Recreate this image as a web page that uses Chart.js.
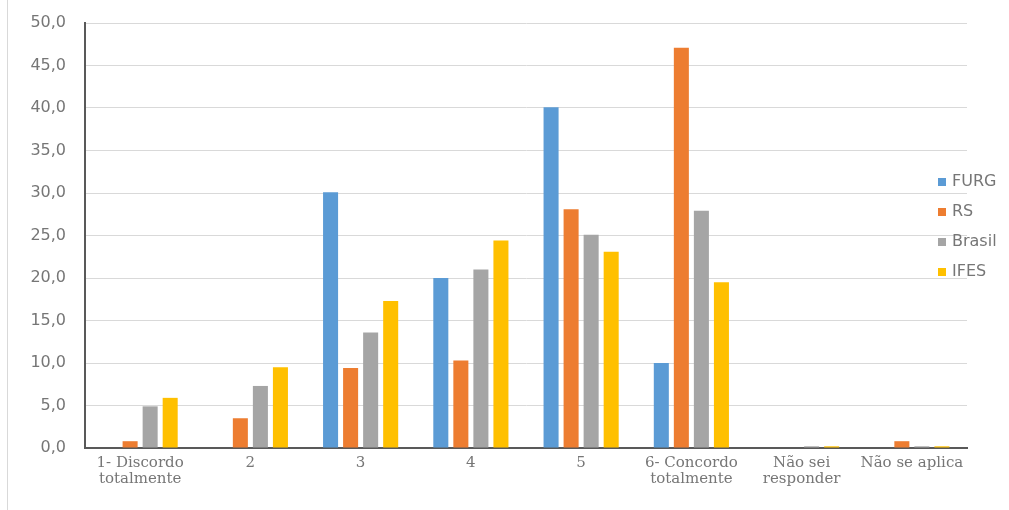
<!DOCTYPE html>
<html>
<head>
<meta charset="utf-8">
<script src="https://cdn.jsdelivr.net/npm/chart.js@4/dist/chart.umd.min.js"></script>
<style>
    html, body { margin: 0; padding: 0; background: #fff; }
    .wrap { position: relative; width: 1009px; height: 510px; }
    .edge { position: absolute; left: 7px; top: 0; width: 1px; height: 510px; background: #d9d9d9; }
</style>
</head>
<body>
<div class="wrap">
    <div class="edge"></div>
    <canvas id="chart" width="1009" height="510"></canvas>
</div>
<script>
// Categories (x axis)
const categories = [
    ['1- Discordo', 'totalmente'],
    '2',
    '3',
    '4',
    '5',
    ['6- Concordo', 'totalmente'],
    ['Não sei', 'responder'],
    'Não se aplica'
];

// Series values (%)
const furg   = [0.0, 0.0, 30.1, 20.0, 40.1, 10.0, 0.0, 0.0];
const rs     = [0.8, 3.5, 9.4, 10.3, 28.1, 47.1, 0.0, 0.8];
const brasil = [4.9, 7.3, 13.6, 21.0, 25.1, 27.9, 0.2, 0.2];
const ifes   = [5.9, 9.5, 17.3, 24.4, 23.1, 19.5, 0.2, 0.2];

const seriesNames = ['FURG', 'RS', 'Brasil', 'IFES'];
const seriesColors = ['#5B9BD5', '#ED7D31', '#A5A5A5', '#FFC000'];

// Y axis ticks
const yMin = 0;
const yMax = 50;
const yStep = 5;

const textColor = '#767676';
const sansFont = '"DejaVu Sans", "Open Sans", sans-serif';
const serifFont = '"DejaVu Serif", "Liberation Serif", serif';

// Legend drawn on top of the plot, like the original
const sideLegend = {
    id: 'sideLegend',
    afterDraw(chart) {
        const ctx = chart.ctx;
        ctx.save();
        ctx.font = '16px ' + sansFont;
        ctx.textBaseline = 'middle';
        chart.data.datasets.forEach(function(ds, i) {
            const y = 182 + i * 30;
            ctx.fillStyle = ds.backgroundColor;
            ctx.fillRect(938, y - 4, 8, 8);
            ctx.fillStyle = textColor;
            ctx.fillText(ds.label, 952, y);
        });
        ctx.restore();
    }
};

const data = {
    labels: categories,
    datasets: [furg, rs, brasil, ifes].map(function(values, i) {
        return {
            label: seriesNames[i],
            data: values,
            backgroundColor: seriesColors[i],
            borderWidth: 0,
            barPercentage: 0.75,
            categoryPercentage: 0.727
        };
    })
};

new Chart(document.getElementById('chart'), {
    type: 'bar',
    data: data,
    plugins: [sideLegend],
    options: {
        responsive: false,
        animation: false,
        layout: { autoPadding: false, padding: { left: 10, top: 23, right: 42, bottom: 0 } },
        plugins: {
            legend: { display: false },
            tooltip: { enabled: false }
        },
        scales: {
            x: {
                grid: { display: false, drawTicks: false },
                border: { display: true, color: '#595959', width: 2 },
                ticks: {
                    color: textColor,
                    font: { family: serifFont, size: 15, lineHeight: 1.05 },
                    padding: 7,
                    maxRotation: 0,
                    autoSkip: false
                },
                afterFit: function(scale) { scale.height = 62; }
            },
            y: {
                min: yMin,
                max: yMax,
                grid: { color: '#d9d9d9', drawTicks: false },
                border: { display: true, color: '#595959', width: 2 },
                ticks: {
                    stepSize: yStep,
                    color: textColor,
                    // small lineHeight keeps the scale from pushing the plot top down
                    font: { family: sansFont, size: 16, lineHeight: 0.4 },
                    padding: 19,
                    callback: function(v) { return v.toFixed(1).replace('.', ','); }
                },
                afterFit: function(scale) { scale.width = 75; }
            }
        }
    }
});
</script>
</body>
</html>
